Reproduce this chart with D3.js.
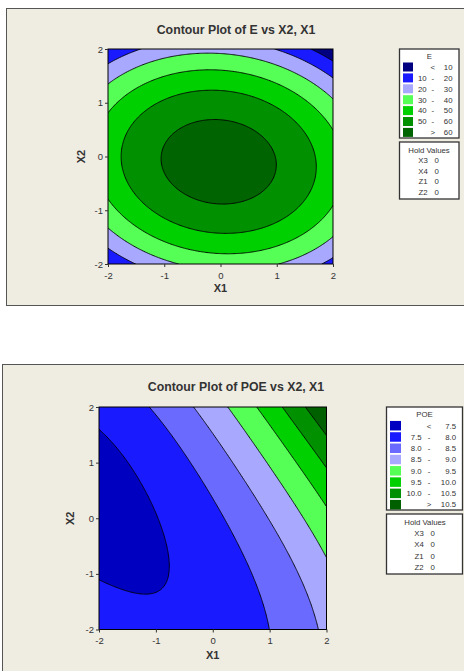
<!DOCTYPE html>
<html>
<head>
<meta charset="utf-8">
<script src="https://cdn.jsdelivr.net/npm/d3@7"></script>
<style>
body { margin: 0; background: #fff; }
text { font-family: "Liberation Sans", Arial, sans-serif; fill: #333; }
</style>
</head>
<body>
<svg id="chart" width="464" height="671"></svg>
<script>
// values
var axisTicks = [-2, -1, 0, 1, 2];
var modelTerms = ["Constant", "X1", "X2", "X1*X1", "X2*X2", "X1*X2", "X1*X1*X2*X2"];

// E: fitted response surface (estimated)
var eCoef = [65.26, -0.42, -1.74, -5.126, -8.7, -0.957, 0];
var eLevels = [10, 20, 30, 40, 50, 60];
var eColors = ["#000080", "#1a1aff", "#a8a8ff", "#55ff55", "#00d000", "#009000", "#006400"];

// POE: surface (estimated)
var poeCoef = [7.892, 0.515, 0.273, 0.112, 0.0825, 0.163, 0.00625];
var poeLevels = [7.5, 8.0, 8.5, 9.0, 9.5, 10.0, 10.5];
var poeColors = ["#0000c0", "#1a1aff", "#6a6aff", "#a8a8ff", "#55ff55", "#00d000", "#009000", "#006000"];

var holdNames = ["X3", "X4", "Z1", "Z2"];
var holdValues = [0, 0, 0, 0];

var svg = d3.select("#chart");

function termValue(term, x1, x2) {
    if (term === "Constant") return 1;
    return term.split("*").reduce(function (p, f) { return p * (f === "X1" ? x1 : x2); }, 1);
}
function evalModel(coef, x1, x2) {
    var s = 0;
    modelTerms.forEach(function (t, k) { s += coef[k] * termValue(t, x1, x2); });
    return s;
}

function drawPanel(cfg) {
    var g = svg.append("g");

    // outer frame
    g.append("rect")
        .attr("x", cfg.frame[0] + 0.5).attr("y", cfg.frame[1] + 0.5)
        .attr("width", 600).attr("height", cfg.frame[2])
        .attr("fill", "#efece2").attr("stroke", "#555").attr("stroke-width", 1);

    var x = d3.scaleLinear().domain([-2, 2]).range([cfg.left, cfg.left + cfg.width]);
    var y = d3.scaleLinear().domain([-2, 2]).range([cfg.top + cfg.height, cfg.top]);

    // grid of model values
    var n = 201, step = 4 / (n - 1);
    var values = new Array(n * n);
    for (var j = 0; j < n; j++)
        for (var i = 0; i < n; i++)
            values[j * n + i] = evalModel(cfg.coef, -2 + i * step, -2 + j * step);

    var contours = d3.contours().size([n, n]).thresholds(cfg.levels)(values);
    var proj = d3.geoTransform({
        point: function (px, py) {
            this.stream.point(x(-2 + (px - 0.5) * step), y(-2 + (py - 0.5) * step));
        }
    });
    var path = d3.geoPath(proj);

    g.append("clipPath").attr("id", cfg.id + "-clip")
      .append("rect")
        .attr("x", cfg.left).attr("y", cfg.top)
        .attr("width", cfg.width).attr("height", cfg.height);

    var plot = g.append("g").attr("clip-path", "url(#" + cfg.id + "-clip)");
    plot.append("rect")
        .attr("x", cfg.left).attr("y", cfg.top)
        .attr("width", cfg.width).attr("height", cfg.height)
        .attr("fill", cfg.colors[0]);
    plot.selectAll("path.band")
        .data(contours)
        .enter().append("path")
        .attr("class", "band")
        .attr("d", path)
        .attr("fill", function (d, i) { return cfg.colors[i + 1]; });
    plot.selectAll("path.line")
        .data(contours)
        .enter().append("path")
        .attr("class", "line")
        .attr("d", path)
        .attr("fill", "none")
        .attr("stroke", "#000")
        .attr("stroke-width", 0.9);

    g.append("rect")
        .attr("x", cfg.left).attr("y", cfg.top)
        .attr("width", cfg.width).attr("height", cfg.height)
        .attr("fill", "none").attr("stroke", "#000").attr("stroke-width", 1);

    // axes (plain hyphen for negatives, as in the original)
    var tickFmt = function (d) { return String(d); };
    var xAxis = g.append("g")
        .attr("transform", "translate(0," + (cfg.top + cfg.height) + ")")
        .call(d3.axisBottom(x).tickValues(axisTicks).tickFormat(tickFmt)
            .tickSize(3).tickSizeOuter(0).tickPadding(5));
    var yAxis = g.append("g")
        .attr("transform", "translate(" + cfg.left + ",0)")
        .call(d3.axisLeft(y).tickValues(axisTicks).tickFormat(tickFmt)
            .tickSize(3).tickSizeOuter(0).tickPadding(2));
    [xAxis, yAxis].forEach(function (a) {
        a.select(".domain").remove();
        a.selectAll("line").attr("stroke", "#333");
        a.selectAll("text").style("font-size", "9.5px").attr("fill", "#333")
            .style("font-family", '"Liberation Sans", Arial, sans-serif');
    });

    // titles
    g.append("text")
        .attr("x", 236).attr("y", cfg.titleY)
        .attr("text-anchor", "middle")
        .style("font-size", "12.3px").style("font-weight", "bold").attr("fill", "#111")
        .text(cfg.title);
    g.append("text")
        .attr("x", cfg.left + cfg.width / 2).attr("y", cfg.xLabelY)
        .attr("text-anchor", "middle")
        .style("font-size", "11px").style("font-weight", "bold").attr("fill", "#222")
        .text("X1");
    g.append("text")
        .attr("transform", "translate(" + cfg.yLabelX + "," + (cfg.top + cfg.height / 2) + ") rotate(-90)")
        .attr("text-anchor", "middle")
        .style("font-size", "11px").style("font-weight", "bold").attr("fill", "#222")
        .text("X2");

    // legend
    var L = cfg.legend;
    var fmt = d3.format(cfg.fmt);
    g.append("rect")
        .attr("x", L.x).attr("y", L.y).attr("width", L.w).attr("height", L.h)
        .attr("fill", "#fff").attr("stroke", "#333").attr("stroke-width", 1.3);
    g.append("text")
        .attr("x", L.x + L.w / 2).attr("y", L.titleY)
        .attr("text-anchor", "middle").style("font-size", "7.8px")
        .text(cfg.name);

    var nRows = cfg.levels.length + 1;
    for (var r = 0; r < nRows; r++) {
        var cy = L.row0 + r * L.rowStep;
        g.append("rect")
            .attr("x", L.swX).attr("y", cy - L.swH / 2)
            .attr("width", L.swW).attr("height", L.swH)
            .attr("fill", cfg.colors[r]);
        var low = "", mid = "-", high;
        if (r === 0) { mid = "<"; high = fmt(cfg.levels[0]); }
        else if (r === nRows - 1) { mid = ">"; high = fmt(cfg.levels[r - 1]); }
        else { low = fmt(cfg.levels[r - 1]); high = fmt(cfg.levels[r]); }
        g.append("text").attr("x", L.lowX).attr("y", cy + 2.8)
            .attr("text-anchor", "end").style("font-size", "7.8px").text(low);
        g.append("text").attr("x", L.midX).attr("y", cy + 2.8)
            .attr("text-anchor", "middle").style("font-size", "7.8px").text(mid);
        g.append("text").attr("x", L.highX).attr("y", cy + 2.8)
            .attr("text-anchor", "end").style("font-size", "7.8px").text(high);
    }

    // hold values box
    var H = cfg.hold;
    g.append("rect")
        .attr("x", H.x).attr("y", H.y).attr("width", H.w).attr("height", H.h)
        .attr("fill", "#fff").attr("stroke", "#333").attr("stroke-width", 1.3);
    g.append("text")
        .attr("x", H.titleX).attr("y", H.titleY)
        .attr("text-anchor", "middle").style("font-size", "7.8px")
        .text("Hold Values");
    holdNames.forEach(function (nm, k) {
        var ty = H.row0 + k * H.rowStep;
        g.append("text").attr("x", H.nameX).attr("y", ty)
            .attr("text-anchor", "middle").style("font-size", "7.8px").text(nm);
        g.append("text").attr("x", H.valX).attr("y", ty)
            .attr("text-anchor", "middle").style("font-size", "7.8px").text(holdValues[k]);
    });
}

drawPanel({
    id: "e", name: "E", title: "Contour Plot of E vs X2, X1",
    coef: eCoef, levels: eLevels, colors: eColors, fmt: "d",
    frame: [6, 8, 297],
    left: 108, top: 49, width: 225, height: 215,
    titleY: 34, xLabelY: 292, yLabelX: 85,
    legend: { x: 399.5, y: 49, w: 59.5, h: 89, titleY: 59, row0: 67, rowStep: 10.9,
              swX: 403, swW: 10, swH: 9, lowX: 426.7, midX: 432.8, highX: 452.5 },
    hold: { x: 399.5, y: 142, w: 59.5, h: 57, titleX: 429, titleY: 153,
            row0: 163, rowStep: 10.6, nameX: 423, valX: 436.7 }
});

drawPanel({
    id: "poe", name: "POE", title: "Contour Plot of POE vs X2, X1",
    coef: poeCoef, levels: poeLevels, colors: poeColors, fmt: ".1f",
    frame: [2, 364, 400],
    left: 99, top: 407, width: 227.5, height: 222.5,
    titleY: 391, xLabelY: 659, yLabelX: 74,
    legend: { x: 386.5, y: 407, w: 76, h: 103, titleY: 417, row0: 425.7, rowStep: 11.28,
              swX: 390, swW: 11, swH: 9.5, lowX: 421.7, midX: 429, highX: 456 },
    hold: { x: 386.5, y: 514, w: 76, h: 60, titleX: 425, titleY: 525,
            row0: 536, rowStep: 11.3, nameX: 419, valX: 432.7 }
});
</script>
</body>
</html>
